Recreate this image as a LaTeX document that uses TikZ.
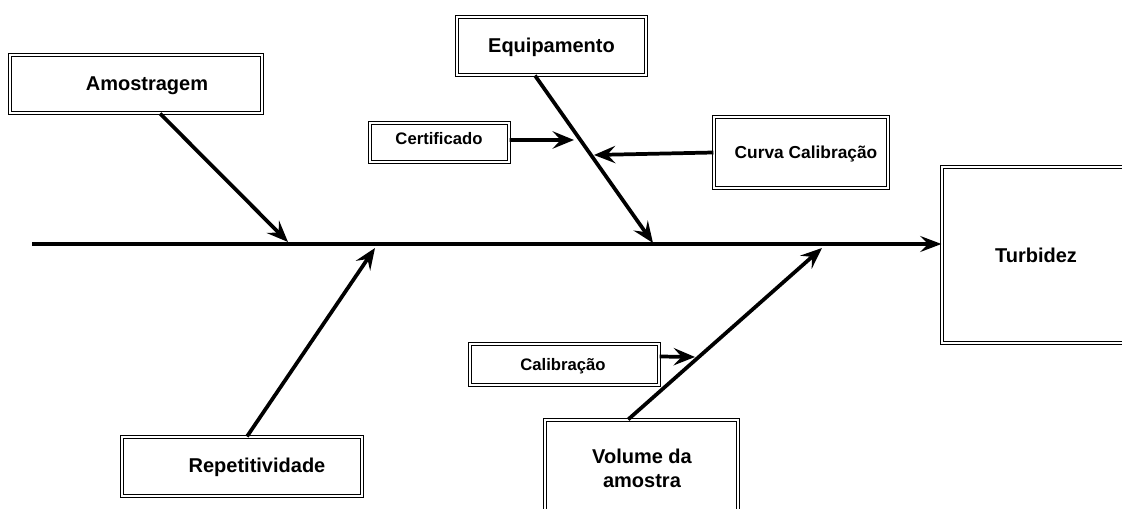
\documentclass[tikz,border=0pt]{standalone}
\usepackage{fontspec}
\setmainfont{Liberation Sans}
\usetikzlibrary{arrows.meta}
\begin{document}
\begin{tikzpicture}[x=0.75pt,y=-0.75pt,
  box/.style={draw, double, double distance=1.3pt, line width=0.8pt, inner sep=0pt},
  big/.style={font=\fontsize{15pt}{18pt}\selectfont\bfseries, align=center},
  small/.style={font=\fontsize{12.5pt}{15pt}\selectfont\bfseries},
  branch/.style={line width=2.8pt, -{Stealth[length=16pt, width=13pt, inset=6pt]}},
  spine/.style={line width=3pt, -{Stealth[length=16pt, width=12pt, inset=6pt]}}]
\useasboundingbox (0,0) rectangle (1122,509);
\clip (0,0) rectangle (1122,509);

% cause boxes
\node[box, minimum width=189pt, minimum height=43.5pt] (amo) at (136,84) {};
\node[big] (amoT) at (147,86) {Amostragem};
\node[box, minimum width=141.75pt, minimum height=43.5pt] (equ) at (551.5,46) {};
\node[big] (equT) at (551.5,47) {Equipamento};
\node[box, minimum width=104.25pt, minimum height=29.25pt] (cert) at (439.5,142.5) {};
\node[small] (certT) at (439,139) {Certificado};
\node[box, minimum width=130.5pt, minimum height=53.25pt] (curva) at (801,152.5) {};
\node[small, font=\fontsize{13pt}{15pt}\selectfont\bfseries] (curvaT) at (806,154) {Curva Calibração};
\node[box, minimum width=148.5pt, minimum height=132pt] (turb) at (1041,255) {};
\node[big] (turbT) at (1036,255) {Turbidez};
\node[box, minimum width=141.75pt, minimum height=30.75pt] (cal) at (564.5,364.5) {};
\node[small] (calT) at (563,366) {Calibração};
\node[box, minimum width=144.75pt, minimum height=105pt] (vol) at (641.5,490) {};
\node[big] (volT) at (642,468) {Volume da\\amostra};
\node[box, minimum width=180pt, minimum height=44.25pt] (rep) at (242,466.5) {};
\node[big] (repT) at (257,467.5) {Repetitividade};

% points where the branches meet
\coordinate (s0) at (32,244);
\coordinate (a1) at (288,242);
\coordinate (a2) at (653,243);
\coordinate (a3) at (375,248);
\coordinate (a4) at (822,248);
\coordinate (c1) at (574,140);
\coordinate (c2) at (594,155);
\coordinate (c3) at (695,357);

% main spine
\draw[spine] (s0) -- (s0 -| turb.west);

% main branches
\draw[branch] ([xshift=18pt]amo.south) -- (a1);
\draw[branch] ([xshift=-12.4pt]equ.south) -- (a2);
\draw[branch] ([xshift=3.75pt]rep.north) -- (a3);
\draw[branch] ([xshift=-10pt]vol.north) -- (a4);

% sub-causes
\draw[branch] ([yshift=1.9pt]cert.east) -- (c1);
\draw[branch] (curva.west) -- (c2);
\draw[branch] ([yshift=6pt]cal.east) -- (c3);
\end{tikzpicture}
\end{document}
